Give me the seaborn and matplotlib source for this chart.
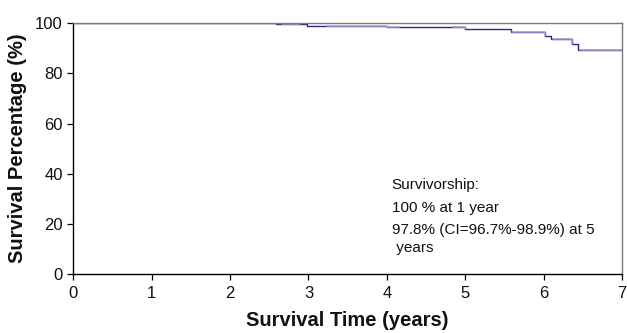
import matplotlib

matplotlib.use("Agg")

import matplotlib.pyplot as plt
import numpy as np
import pandas as pd
import seaborn as sns

# Kaplan-Meier step curve (years, % surviving)
step_times = [0.0, 2.58, 2.98, 4.0, 5.0, 5.58, 6.02, 6.1, 6.36, 6.44, 7.0]
step_surv = [100.0, 99.7, 98.8, 98.5, 97.6, 96.5, 95.0, 93.6, 91.7, 89.5, 89.5]

# stretches where the curve is drawn in the lighter tint
light_spans = [(1.08, 1.8), (2.66, 2.89), (3.23, 4.16), (4.84, 5.0),
               (5.6, 6.02), (6.12, 6.36), (6.46, 7.0)]

x_ticks = [0, 1, 2, 3, 4, 5, 6, 7]
y_ticks = [0, 20, 40, 60, 80, 100]

note_lines = ["Survivorship:", "100 % at 1 year",
              "97.8% (CI=96.7%-98.9%) at 5", " years"]

DARK = "#2d2a7c"
LIGHT = "#a3a1d0"


def step_piece(a, b):
    t = np.array(step_times)
    s = np.array(step_surv)
    inner = t[(t > a) & (t < b)]
    xs = np.concatenate([[a], inner, [b]])
    ys = s[np.searchsorted(t, xs, side="right") - 1]
    return pd.DataFrame({"time": xs, "survival": ys})


def main() -> None:
    sns.set_theme(style="ticks")
    plt.rcParams["font.family"] = ["Liberation Sans", "DejaVu Sans"]

    fig = plt.figure(figsize=(6.27, 3.33), dpi=100)
    ax = fig.add_axes([0.117, 0.177, 0.875, 0.753])

    curve = pd.DataFrame({"time": step_times, "survival": step_surv})
    sns.lineplot(data=curve, x="time", y="survival", drawstyle="steps-post",
                 color=DARK, linewidth=1.0, estimator=None, ax=ax)
    for a, b in light_spans:
        sns.lineplot(data=step_piece(a, b), x="time", y="survival",
                     drawstyle="steps-post", color=LIGHT, linewidth=1.1,
                     estimator=None, ax=ax)

    ax.set_xlim(0, 7)
    ax.set_ylim(0, 100)
    ax.set_xticks(x_ticks)
    ax.set_yticks(y_ticks)
    ax.tick_params(axis="both", labelsize=12, colors="black", labelcolor="#111111",
                   length=4.5, width=0.9, direction="out", pad=3,
                   bottom=True, left=True)
    ax.tick_params(axis="x", pad=4)

    for side in ("left", "bottom"):
        ax.spines[side].set_color("black")
        ax.spines[side].set_linewidth(1.0)
    for side in ("top", "right"):
        ax.spines[side].set_visible(True)
        ax.spines[side].set_color("#7a7a7a")
        ax.spines[side].set_linewidth(1.0)

    ax.set_xlabel("Survival Time (years)", fontsize=14.5, fontweight="bold",
                  color="#111111", labelpad=7)
    ax.set_ylabel("Survival Percentage (%)", fontsize=14.5, fontweight="bold",
                  color="#111111", labelpad=6)

    y_pos = [35.5, 26.3, 17.5, 10.4]
    for text, y in zip(note_lines, y_pos):
        ax.text(4.06, y, text, fontsize=11, va="center", ha="left",
                color="#111111")

    fig.savefig("out.png", dpi=100)
    plt.close(fig)


if __name__ == "__main__":
    main()
